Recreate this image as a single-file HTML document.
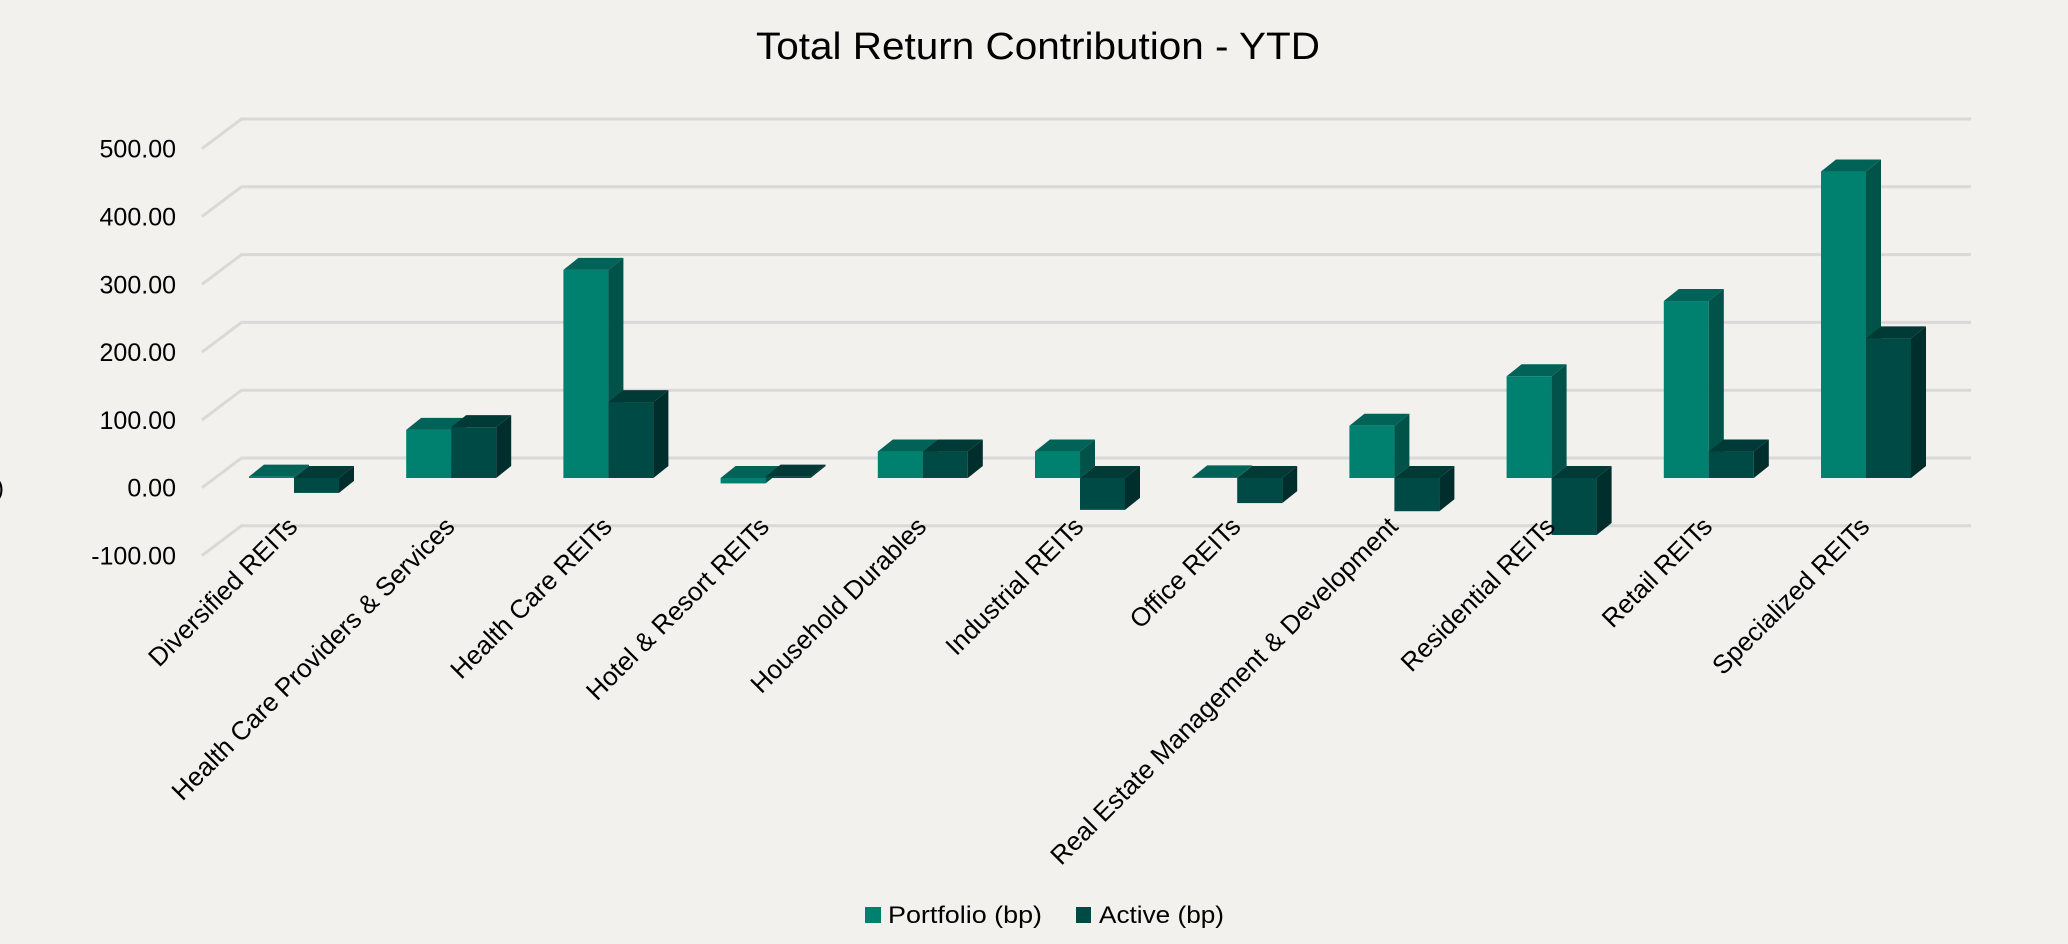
<!DOCTYPE html>
<html><head><meta charset="utf-8"><style>
html,body{margin:0;padding:0;background:#F2F1ED;}
svg{display:block;font-family:"Liberation Sans",sans-serif;}
</style></head><body>
<svg width="2068" height="944" viewBox="0 0 2068 944" xmlns="http://www.w3.org/2000/svg">
<rect width="2068" height="944" fill="#F2F1ED"/>
<text x="756" y="59" font-size="38" textLength="564" lengthAdjust="spacingAndGlyphs" fill="#000">Total Return Contribution - YTD</text>
<g id="grid" stroke="#D9D9D9" stroke-width="3" fill="none"></g>
<g id="ylab" font-size="25" fill="#000" text-anchor="end"></g>
<g id="bars"></g>
<g id="xlab" font-size="26" fill="#000" text-anchor="end"></g>
<text x="-4" y="496" font-size="24" fill="#000">)</text>
<rect x="865" y="907" width="16" height="16" fill="#00806F"/>
<text x="888" y="923" font-size="24" textLength="154" lengthAdjust="spacingAndGlyphs">Portfolio (bp)</text>
<rect x="1076" y="907" width="15" height="16" fill="#004A45"/>
<text x="1099" y="923" font-size="24" textLength="125" lengthAdjust="spacingAndGlyphs">Active (bp)</text>
</svg>
<script>
const NS="http://www.w3.org/2000/svg";
function el(p,t,a,txt){const e=document.createElementNS(NS,t);for(const k in a)e.setAttribute(k,a[k]);if(txt!==undefined)e.textContent=txt;document.getElementById(p).appendChild(e);return e;}
const S=0.678;
for(let v=-100;v<=500;v+=100){
 const yb=458-v*S, yf=yb+29.7;
 el("grid","polyline",{points:`202,${yf} 241.5,${yb} 1971,${yb}`});
 el("ylab","text",{x:176,y:yf+9},v.toFixed(2));
}
const cats=["Diversified REITs","Health Care Providers & Services","Health Care REITs","Hotel & Resort REITs","Household Durables","Industrial REITs","Office REITs","Real Estate Management & Development","Residential REITs","Retail REITs","Specialized REITs"];
const P=[2,71,307,-8,39,39,1,77,150,261,452];
const A=[-22,75,112,2,39,-47,-37,-49,-84,39,206];
const base=478,W=45,dx=15,dy=12;
function bar(x,v,cf,cs,ct){
 const h=v*S; const top=Math.min(base,base-h), bot=Math.max(base,base-h);
 const ht=Math.max(bot-top,0.5);
 el("bars","rect",{x:x,y:top,width:W,height:ht,fill:cf});
 el("bars","polygon",{points:`${x+W},${top} ${x+W+dx},${top-dy} ${x+W+dx},${bot-dy} ${x+W},${bot}`,fill:cs});
 el("bars","polygon",{points:`${x},${top} ${x+dx},${top-dy} ${x+W+dx},${top-dy} ${x+W},${top}`,fill:ct});
}
for(let i=0;i<11;i++){
 const gx=249+157.2*i;
 bar(gx,P[i],"#00806F","#015249","#016358");
 bar(gx+W,A[i],"#004A45","#002E2C","#003A36");
 const cx=gx+W+5, cy=528;
 el("xlab","text",{x:cx,y:cy,transform:`rotate(-45 ${cx} ${cy})`},cats[i]);
}
</script>
</body></html>
